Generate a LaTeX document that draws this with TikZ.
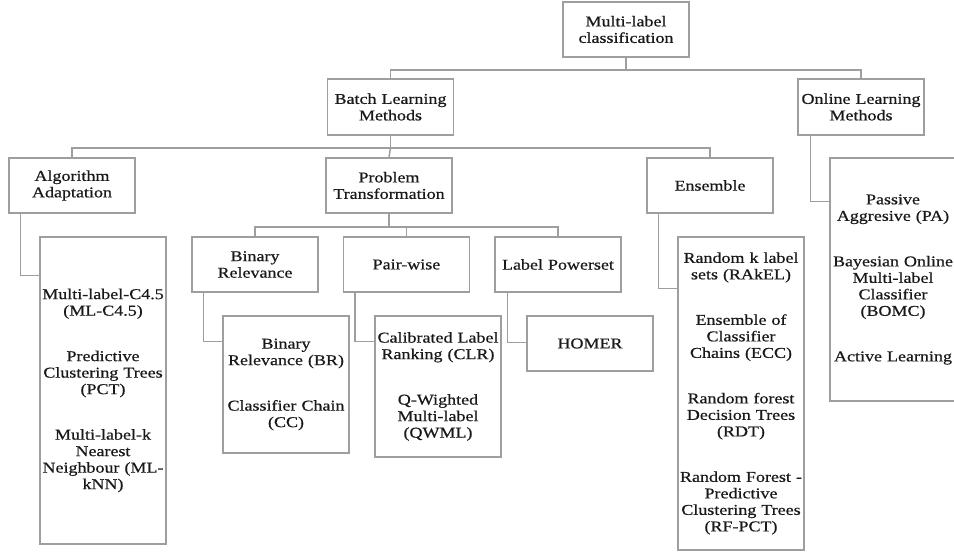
\documentclass[tikz,border=0pt]{standalone}
\usepackage{fontspec}
\setmainfont{Liberation Serif}[FakeStretch=1.2,FakeBold=0.6]
\usepackage{tikz}
\usetikzlibrary{positioning}

\definecolor{linegray}{RGB}{158,158,158}

\begin{document}
\begin{tikzpicture}[x=1pt,y=-1pt,
	box/.style={shape=rectangle,draw=linegray,line width=1.5pt,text width=122pt,inner xsep=2pt,inner ysep=0pt,
		minimum width=126pt,align=center,text=black!90,font=\fontsize{15}{16.5}\selectfont},
	link/.style={draw=linegray,line width=1.5pt}]
	\useasboundingbox (0,0) rectangle (954,554);
	\clip (0,0) rectangle (954,554);
	\path (626,29.5) node (root) [box,minimum height=55pt] {Multi-label\\classification}
		  (390.5,107) node (batch) [box,minimum height=56pt] {Batch Learning\\Methods}
		  (861,107) node (online) [box,minimum height=56pt] {Online Learning\\Methods}
		  (72,185.5) node (aa) [box,minimum height=55pt] {Algorithm\\Adaptation}
		  (389,185.5) node (pt) [box,minimum height=55pt] {Problem\\Transformation}
		  (710,185.5) node (ens) [box,minimum height=55pt] {Ensemble}
		  (255,264.5) node (br) [box,minimum height=55pt] {Binary\\Relevance}
		  (406.5,264.5) node (pw) [box,minimum height=55pt] {Pair-wise}
		  (558,264.5) node (lp) [box,minimum height=55pt] {Label Powerset};
	\path (103,390.5) node (aaleaf) [box,minimum height=307pt] {Multi-label-C4.5\\(ML-C4.5)\\[29pt]
			Predictive\\Clustering Trees\\(PCT)\\[29pt]Multi-label-k\\Nearest\\Neighbour (ML-\\kNN)}
		  (286,384.5) node (brleaf) [box,minimum height=137pt] {Binary\\Relevance (BR)\\[29pt]Classifier Chain\\(CC)}
		  (438,386.5) node (pwleaf) [box,minimum height=141pt] {Calibrated Label\\Ranking (CLR)\\[29pt]
			Q-Wighted\\Multi-label\\(QWML)}
		  (590,343.5) node (homer) [box,minimum height=55pt] {HOMER}
		  (741,393.5) node (ensleaf) [box,minimum height=313pt] {Random k label\\sets (RAkEL)\\[29pt]
			Ensemble of\\Classifier\\Chains (ECC)\\[29pt]Random forest\\Decision Trees\\(RDT)\\[29pt]
			Random Forest -\\Predictive\\Clustering Trees\\(RF-PCT)}
		  (893,279.5) node (onleaf) [box,minimum height=243pt] {Passive\\Aggresive (PA)\\[29pt]
			Bayesian Online\\Multi-label\\Classifier\\(BOMC)\\[29pt]Active Learning};
	% tree buses
	\draw[link] (root.south) -- ++(0,12) coordinate (r1);
	\draw[link] (batch.north) |- (r1) -| (online.north);
	\draw[link] (batch.south) -- ++(0,12) coordinate (r2);
	\draw[link] (aa.north) |- (r2) -| (ens.north);
	\draw[link] (r2) -- (pt.north);
	\draw[link] (pt.south) -- ++(0,13) coordinate (r3);
	\draw[link] (br.north) |- (r3) -| (lp.north);
	\draw[link] (r3) -| (pw.north);
	% leaf links
	\draw[link] ([xshift=12pt]aa.south west) |- ([yshift=-39pt]aaleaf.north west);
	\draw[link] ([xshift=12pt]br.south west) |- ([yshift=-26pt]brleaf.north west);
	\draw[link] ([xshift=12pt]pw.south west) |- ([yshift=-26pt]pwleaf.north west);
	\draw[link] ([xshift=13pt]lp.south west) |- ([yshift=-27pt]homer.north west);
	\draw[link] ([xshift=12pt]ens.south west) |- ([yshift=-52pt]ensleaf.north west);
	\draw[link] ([xshift=13pt]online.south west) |- ([yshift=-44pt]onleaf.north west);
\end{tikzpicture}
\end{document}
